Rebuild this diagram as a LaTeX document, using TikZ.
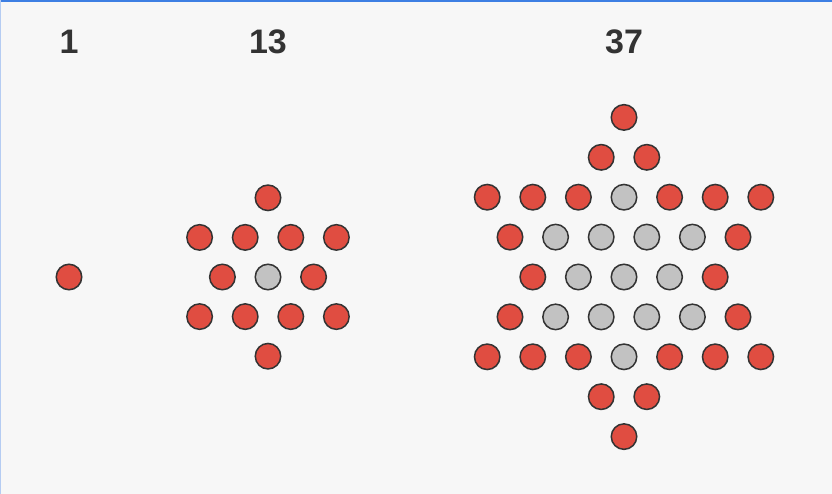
\documentclass[tikz,border=0pt]{standalone}
\usepackage{fontspec}
\setmainfont{Liberation Sans}
\definecolor{bgcol}{HTML}{F7F7F7}
\definecolor{topblue}{HTML}{3D7FE3}
\definecolor{leftblue}{HTML}{B5CCF2}
\definecolor{dotred}{HTML}{E04D41}
\definecolor{dotgray}{HTML}{C2C2C2}
\definecolor{dotline}{HTML}{333333}
\definecolor{labcol}{HTML}{333333}
\begin{document}
\begin{tikzpicture}[x=1pt,y=-1pt,
  dotbase/.style={circle,draw=dotline,line width=1.5pt,minimum size=25.5pt,inner sep=0pt},
  R/.style={dotbase,fill=dotred},
  G/.style={dotbase,fill=dotgray},
  lab/.style={text=labcol,font=\bfseries\fontsize{34}{34}\selectfont,inner sep=0pt}]
\fill[bgcol] (0,0) rectangle (832,494);
\useasboundingbox (0,0) rectangle (832,494);
\draw[topblue,line width=2pt] (0,1) -- (832,1);
\draw[leftblue,line width=1.2pt] (0.6,0) -- (0.6,494);
% labels
\node[lab] (l1) at (69,42) {1};
\node[lab] (l13) at (268,42) {13};
\node[lab] (l37) at (624,42) {37};
% star 1
\node[R] (a-1) at (69,277) {};
% star 13
\foreach \r/\j/\t [count=\n] in {-2/0/R,
  -1/-3/R,-1/-1/R,-1/1/R,-1/3/R,
  0/-2/R,0/0/G,0/2/R,
  1/-3/R,1/-1/R,1/1/R,1/3/R,
  2/0/R}
  \node[\t] (b-\n) at ({268+\j*22.8},{277+\r*39.6}) {};
% star 37
\foreach \r/\j/\t [count=\n] in {-4/0/R,
  -3/-1/R,-3/1/R,
  -2/-6/R,-2/-4/R,-2/-2/R,-2/0/G,-2/2/R,-2/4/R,-2/6/R,
  -1/-5/R,-1/-3/G,-1/-1/G,-1/1/G,-1/3/G,-1/5/R,
  0/-4/R,0/-2/G,0/0/G,0/2/G,0/4/R,
  1/-5/R,1/-3/G,1/-1/G,1/1/G,1/3/G,1/5/R,
  2/-6/R,2/-4/R,2/-2/R,2/0/G,2/2/R,2/4/R,2/6/R,
  3/-1/R,3/1/R,
  4/0/R}
  \node[\t] (c-\n) at ({624+\j*22.8},{277+\r*39.9}) {};
\end{tikzpicture}
\end{document}
